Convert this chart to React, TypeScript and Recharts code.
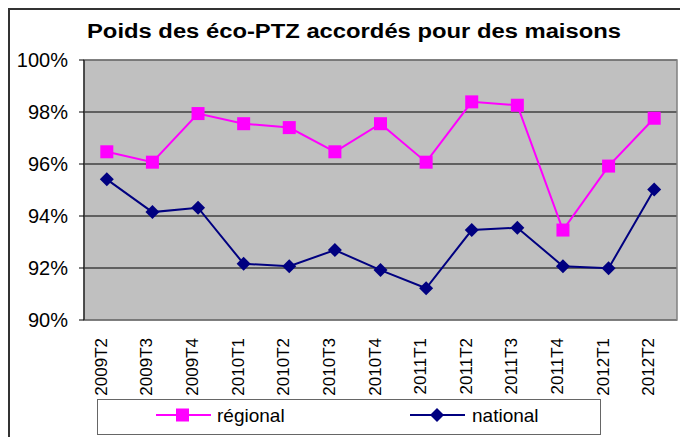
import { LineChart, Line, XAxis, YAxis, CartesianGrid, ReferenceArea } from 'recharts';

const categories = ['2009T2', '2009T3', '2009T4', '2010T1', '2010T2', '2010T3', '2010T4', '2011T1', '2011T2', '2011T3', '2011T4', '2012T1', '2012T2'];
const regional = [96.47, 96.07, 97.94, 97.55, 97.4, 96.47, 97.55, 96.07, 98.39, 98.26, 93.46, 95.92, 97.76];
const national = [95.41, 94.15, 94.32, 92.16, 92.07, 92.69, 91.92, 91.22, 93.46, 93.55, 92.07, 91.99, 95.02];
const yTicks = [90, 92, 94, 96, 98, 100];

const FONT = '"Liberation Sans", Arial, sans-serif';
const PINK = '#FF00FF';
const NAVY = '#000080';

const data = categories.map((c, i) => ({ x: i + 0.5, label: c, regional: regional[i], national: national[i] }));
const labelTicks = categories.map((_, i) => i + 0.5);
const markTicks = [...categories.map((_, i) => i), categories.length];

const SquareDot = (props: any) => {
  const { cx, cy, index } = props;
  if (cx == null || cy == null) return null;
  return <rect key={`sq-${index}`} x={cx - 6.5} y={cy - 6.5} width={13} height={13} fill={PINK} />;
};

const DiamondDot = (props: any) => {
  const { cx, cy, index } = props;
  if (cx == null || cy == null) return null;
  return (
    <polygon
      key={`dm-${index}`}
      points={`${cx},${cy - 7} ${cx + 7},${cy} ${cx},${cy + 7} ${cx - 7},${cy}`}
      fill={NAVY}
    />
  );
};

const RotatedTick = (props: any) => {
  const { x, y, payload } = props;
  const i = Math.round(payload.value - 0.5);
  const ty = y + 18;
  return (
    <text
      x={x}
      y={ty}
      transform={`rotate(-90, ${x}, ${ty})`}
      textAnchor="end"
      fontSize={17}
      fontFamily={FONT}
      fill="#000"
    >
      {categories[i]}
    </text>
  );
};

export default function App() {
  return (
    <div style={{ position: 'relative', width: 680, height: 429, overflow: 'hidden', background: '#fff' }}>
      {/* outer frame, right and bottom edges fall outside the window */}
      <div style={{ position: 'absolute', left: 0, top: 0, width: 700, height: 450, border: '2px solid #333' }} />
      <svg style={{ position: 'absolute', left: 0, top: 0 }} width={680} height={50}>
        <text x={79} y={30} fontSize={20} fontWeight="bold" fontFamily={FONT} textLength={534} lengthAdjust="spacingAndGlyphs">
          Poids des éco-PTZ accordés pour des maisons
        </text>
      </svg>
      <div style={{ position: 'absolute', left: 0, top: 0 }}>
        <LineChart width={680} height={429} data={data} margin={{ top: 52, right: 11, bottom: 0, left: 0 }}>
          <CartesianGrid fill="#C0C0C0" stroke="#000" vertical={false} xAxisId="labels" />
          <ReferenceArea xAxisId="labels" x1={0} x2={13} y1={90} y2={100} fill="none" stroke="#808080" strokeWidth={1.5} />
          <XAxis
            xAxisId="marks"
            type="number"
            dataKey="x"
            domain={[0, 13]}
            ticks={markTicks}
            height={0}
            tickSize={5}
            tickFormatter={() => ''}
            stroke="#000"
            axisLine={{ stroke: '#000' }}
            tickLine={{ stroke: '#000' }}
          />
          <XAxis
            xAxisId="labels"
            type="number"
            dataKey="x"
            domain={[0, 13]}
            ticks={labelTicks}
            height={117}
            tickSize={0}
            tickMargin={0}
            axisLine={false}
            tickLine={false}
            tick={RotatedTick}
          />
          <YAxis
            domain={[90, 100]}
            ticks={yTicks}
            width={76}
            tickSize={5}
            tickMargin={11}
            tickFormatter={(v) => `${v}%`}
            tick={{ fontSize: 20, fill: '#000', fontFamily: FONT }}
            axisLine={{ stroke: '#000' }}
            tickLine={{ stroke: '#000' }}
          />
          <Line xAxisId="labels" dataKey="regional" stroke={PINK} strokeWidth={2} dot={SquareDot} isAnimationActive={false} />
          <Line xAxisId="labels" dataKey="national" stroke={NAVY} strokeWidth={2} dot={DiamondDot} isAnimationActive={false} />
        </LineChart>
      </div>
      {/* legend */}
      <div style={{ position: 'absolute', left: 89, top: 391, width: 504, height: 36, border: '1.5px solid #666', background: '#fff', boxSizing: 'border-box' }}>
        <svg width={504} height={36} style={{ position: 'absolute', left: -1.5, top: -1.5 }}>
          <line x1={59} x2={114} y1={16} y2={16} stroke={PINK} strokeWidth={2} />
          <rect x={79} y={9.5} width={13} height={13} fill={PINK} />
          <text x={120} y={23} fontSize={19} fontFamily={FONT} fill="#000">régional</text>
          <line x1={313} x2={368} y1={16} y2={16} stroke={NAVY} strokeWidth={2} />
          <polygon points="340,9 347,16 340,23 333,16" fill={NAVY} />
          <text x={375} y={23} fontSize={19} fontFamily={FONT} fill="#000">national</text>
        </svg>
      </div>
    </div>
  );
}
